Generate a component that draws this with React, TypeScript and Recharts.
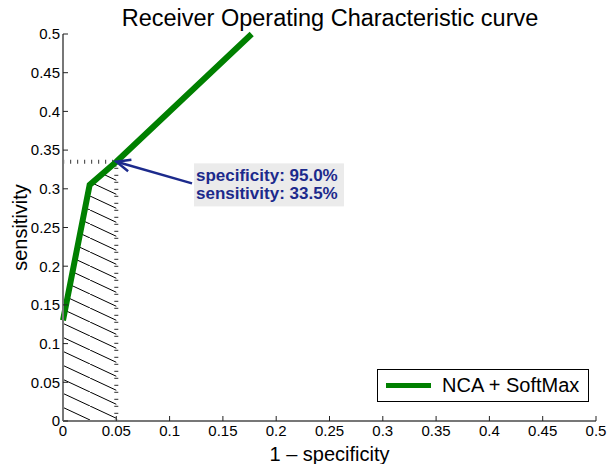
import React from 'react';
import {
  ComposedChart, Line, Area, XAxis, YAxis, ReferenceLine, ReferenceDot, Customized,
} from 'recharts';

const fpr = [0, 0.025, 0.05, 0.177];
const tpr = [0.13, 0.305, 0.335, 0.5];
const ticks = [0, 0.05, 0.1, 0.15, 0.2, 0.25, 0.3, 0.35, 0.4, 0.45, 0.5];
const opX = 0.05;
const opY = 0.335;
const noteAt = { x: 0.121, y: 0.307 };
const noteLines = ['specificity: 95.0%', 'sensitivity: 33.5%'];
const seriesName = 'NCA + SoftMax';

const data = fpr.map((x, i) => ({
  x,
  roc: tpr[i],
  hatch: x <= opX ? tpr[i] : undefined,
}));

const FONT = '"Liberation Sans", Arial, Helvetica, sans-serif';
const NAVY = '#1c2a8c';

const fmt = (v: number) => (v === 0 ? '0' : String(v));

const Arrow = (props: any) => {
  const { x1, y1, x2, y2 } = props;
  // tail at (x2,y2), head at (x1,y1)
  const dx = x1 - x2;
  const dy = y1 - y2;
  const len = Math.sqrt(dx * dx + dy * dy) || 1;
  const ux = dx / len;
  const uy = dy / len;
  const px = -uy;
  const py = ux;
  const hl = 14;
  const hw = 6;
  const bx = x1 - ux * hl;
  const by = y1 - uy * hl;
  return (
    <g>
      <line x1={x2} y1={y2} x2={x1 - ux * 3} y2={y1 - uy * 3} stroke={NAVY} strokeWidth={2.5} />
      <polyline
        points={`${bx + px * hw},${by + py * hw} ${x1},${y1} ${bx - px * hw},${by - py * hw}`}
        fill="none"
        stroke={NAVY}
        strokeWidth={2.5}
      />
    </g>
  );
};

const Note = (props: any) => {
  const { cx, cy } = props;
  return (
    <g>
      <rect x={cx + 2} y={cy - 20} width={150} height={43} fill="#ebebeb" />
      <text x={cx + 4} y={cy - 2} fill={NAVY} fontFamily={FONT} fontSize={17} fontWeight="bold">
        {noteLines[0]}
      </text>
      <text x={cx + 4} y={cy + 16} fill={NAVY} fontFamily={FONT} fontSize={17} fontWeight="bold">
        {noteLines[1]}
      </text>
    </g>
  );
};

const Title = () => (
  <text x={330} y={26} textAnchor="middle" fontFamily={FONT} fontSize={23.5} fill="#000">
    Receiver Operating Characteristic curve
  </text>
);

export default function App() {
  return (
    <div style={{ position: 'absolute', left: 0, top: 0, width: 611, height: 464 }}>
      <ComposedChart
        width={611}
        height={464}
        data={data}
        margin={{ top: 34, right: 15, bottom: 3, left: 13 }}
      >
        <defs>
          <pattern id="hatch" patternUnits="userSpaceOnUse" width={30} height={14}>
            <line x1={0} y1={0} x2={30} y2={14} stroke="#000" strokeWidth={1} />
          </pattern>
        </defs>
        <XAxis
          type="number"
          dataKey="x"
          domain={[0, 0.5]}
          ticks={ticks}
          tickFormatter={fmt}
          tickSize={-5}
          tickMargin={9}
          height={40}
          axisLine={{ stroke: '#777', strokeWidth: 2 }}
          tickLine={{ stroke: '#222' }}
          tick={{ fill: '#000', fontFamily: FONT, fontSize: 15 }}
          label={{ value: '1 \u2013 specificity', position: 'insideBottom', offset: 0, fill: '#000', fontFamily: FONT, fontSize: 20 }}
          interval={0}
        />
        <YAxis
          type="number"
          domain={[0, 0.5]}
          ticks={ticks}
          tickFormatter={fmt}
          tickSize={-5}
          tickMargin={8}
          width={50}
          axisLine={{ stroke: '#777', strokeWidth: 2 }}
          tickLine={{ stroke: '#222' }}
          tick={{ fill: '#000', fontFamily: FONT, fontSize: 15 }}
          label={{ value: 'sensitivity', angle: -90, position: 'insideLeft', offset: 7, fill: '#000', fontFamily: FONT, fontSize: 20, style: { textAnchor: 'middle' } }}
          interval={0}
        />
        <Area
          type="linear"
          dataKey="hatch"
          stroke="none"
          fill="url(#hatch)"
          fillOpacity={1}
          isAnimationActive={false}
          legendType="none"
          activeDot={false}
        />
        <ReferenceLine
          segment={[{ x: opX, y: 0 }, { x: opX, y: opY }]}
          stroke="#555"
          strokeWidth={4}
          strokeDasharray="1.2 5.8"
        />
        <ReferenceLine
          segment={[{ x: 0, y: opY }, { x: opX, y: opY }]}
          stroke="#555"
          strokeWidth={4}
          strokeDasharray="1.2 5.8"
        />
        <Line
          type="linear"
          dataKey="roc"
          name={seriesName}
          stroke="#008000"
          strokeWidth={6}
          dot={false}
          activeDot={false}
          isAnimationActive={false}
        />
        <ReferenceLine
          segment={[{ x: opX, y: opY }, { x: noteAt.x, y: noteAt.y }]}
          shape={<Arrow />}
        />
        <ReferenceDot x={noteAt.x} y={noteAt.y} r={0} shape={<Note />} />
        <Customized component={<Title />} />
      </ComposedChart>
      <div
        style={{
          position: 'absolute',
          left: 377,
          top: 369,
          width: 212,
          height: 33,
          border: '1px solid #000',
          background: '#fff',
          display: 'flex',
          alignItems: 'center',
          fontFamily: FONT,
          fontSize: 20,
          boxSizing: 'border-box',
        }}
      >
        <div style={{ width: 45, height: 5, background: '#008000', marginLeft: 8, marginRight: 11 }} />
        <span>{seriesName}</span>
      </div>
    </div>
  );
}
